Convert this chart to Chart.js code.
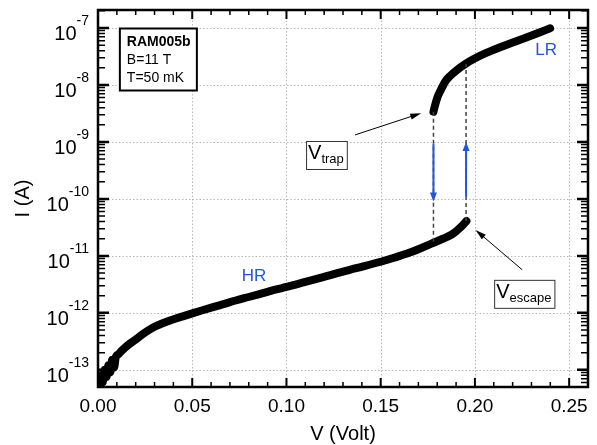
<!DOCTYPE html>
<html>
<head>
<meta charset="utf-8">
<title>RAM005b I-V</title>
<script src="https://cdn.jsdelivr.net/npm/chart.js@4.4.1/dist/chart.umd.min.js"></script>
<style>
  html, body { margin: 0; padding: 0; background: #fff; }
  #wrap { width: 597px; height: 445px; }
</style>
</head>
<body>
<div id="wrap"><canvas id="ivChart"></canvas></div>
<script>
// HR branch: sweep up from 0 V until the escape jump
const hrVolt = [0.0005, 0.0015, 0.0025, 0.0035, 0.0045, 0.0055, 0.0065, 0.0075, 0.0085, 0.0095,
  0.011, 0.0125, 0.014, 0.017, 0.020, 0.024, 0.029, 0.034, 0.039, 0.045, 0.050, 0.055, 0.061,
  0.067, 0.073, 0.080, 0.087, 0.094, 0.100, 0.110, 0.119, 0.128, 0.137, 0.150, 0.157, 0.164,
  0.171, 0.178, 0.183, 0.187, 0.190, 0.192, 0.194, 0.1955];
const hrCurrent = [5.5e-14, 8e-14, 6e-14, 1.0e-13, 7.5e-14, 1.2e-13, 9e-14, 1.5e-13, 1.1e-13, 1.7e-13,
  1.9e-13, 2.15e-13, 2.4e-13, 2.9e-13, 3.4e-13, 4.3e-13, 5.5e-13, 6.5e-13, 7.5e-13, 8.7e-13, 9.8e-13, 1.1e-12, 1.26e-12,
  1.44e-12, 1.65e-12, 1.9e-12, 2.2e-12, 2.55e-12, 2.85e-12, 3.5e-12, 4.2e-12, 5.1e-12, 6.1e-12, 7.9e-12, 9.3e-12, 1.1e-11,
  1.35e-11, 1.7e-11, 2.0e-11, 2.3e-11, 2.7e-11, 3.1e-11, 3.6e-11, 4.1e-11];

// LR branch: from the trap point up to 0.24 V
const lrVolt = [0.1780, 0.1789, 0.1801, 0.1819, 0.1842, 0.1868, 0.1904, 0.1948, 0.2001, 0.2063,
  0.2134, 0.2204, 0.2276, 0.2346, 0.2399];
const lrCurrent = [3.4e-9, 4.46e-9, 6.08e-9, 8.17e-9, 1.14e-8, 1.44e-8, 1.83e-8, 2.33e-8, 2.94e-8, 3.69e-8,
  4.58e-8, 5.61e-8, 6.87e-8, 8.41e-8, 9.88e-8];

// switching voltages and the currents at both ends of each jump
const trapVolt = 0.178;
const trapCurrent = [3.4e-9, 1.7e-11];
const escapeVolt = 0.1953;
const escapeCurrent = [4.1e-11, 2.3e-8];

// blue arrows showing the jump direction
const downArrow = [9.3e-10, 9e-11];
const upArrow = [1.1e-10, 1.0e-9];

const xTicks = [0.00, 0.05, 0.10, 0.15, 0.20, 0.25];
const yDecades = [-13, -12, -11, -10, -9, -8, -7];

const FONT = '"Liberation Sans", Arial, sans-serif';
const BLUE = '#1f55e0';

function toPoints(xs, ys) {
  return xs.map((x, i) => ({ x: x, y: ys[i] }));
}

function arrow(ctx, x1, y1, x2, y2, len, w, color, lw) {
  const a = Math.atan2(y2 - y1, x2 - x1);
  const c = Math.cos(a), s = Math.sin(a);
  ctx.save();
  ctx.strokeStyle = color;
  ctx.fillStyle = color;
  ctx.lineWidth = lw;
  ctx.beginPath();
  ctx.moveTo(x1, y1);
  ctx.lineTo(x2 - c * len * 0.7, y2 - s * len * 0.7);
  ctx.stroke();
  ctx.beginPath();
  ctx.moveTo(x2, y2);
  ctx.lineTo(x2 - len * c + w / 2 * s, y2 - len * s - w / 2 * c);
  ctx.lineTo(x2 - len * c - w / 2 * s, y2 - len * s + w / 2 * c);
  ctx.closePath();
  ctx.fill();
  ctx.restore();
}

// framed label "V" with a subscript
function subBox(ctx, left, top, sub) {
  ctx.save();
  ctx.font = '20px ' + FONT;
  const wMain = ctx.measureText('V').width;
  ctx.font = '13px ' + FONT;
  const wSub = ctx.measureText(sub).width;
  const w = wMain + wSub + 5, h = 28;
  ctx.fillStyle = '#fff';
  ctx.fillRect(left, top, w, h);
  ctx.strokeStyle = '#333';
  ctx.lineWidth = 1;
  ctx.strokeRect(left + 0.5, top + 0.5, w, h);
  ctx.fillStyle = '#000';
  ctx.textBaseline = 'alphabetic';
  ctx.font = '20px ' + FONT;
  ctx.fillText('V', left + 2, top + 18);
  ctx.font = '13px ' + FONT;
  ctx.fillText(sub, left + 2 + wMain, top + 22);
  ctx.restore();
}

const gridPlugin = {
  id: 'gridLines',
  beforeDatasetsDraw(chart) {
    const { ctx, chartArea: a, scales: { x, y } } = chart;
    ctx.save();
    ctx.strokeStyle = '#b8b8b8';
    ctx.lineWidth = 1;
    ctx.setLineDash([1.5, 2]);
    xTicks.forEach(v => {
      const px = Math.round(x.getPixelForValue(v)) + 0.5;
      if (px <= a.left + 2) return;
      ctx.beginPath(); ctx.moveTo(px, a.top); ctx.lineTo(px, a.bottom); ctx.stroke();
    });
    yDecades.forEach(d => {
      const py = Math.round(y.getPixelForValue(Math.pow(10, d))) + 0.5;
      ctx.beginPath(); ctx.moveTo(a.left, py); ctx.lineTo(a.right, py); ctx.stroke();
    });
    ctx.restore();
  }
};

const framePlugin = {
  id: 'frameAxes',
  afterDatasetsDraw(chart) {
    const { ctx, chartArea: a, scales: { x, y } } = chart;
    ctx.save();
    ctx.strokeStyle = '#000';

    // x ticks, inward on bottom and top
    for (let i = 0; i <= 26; i++) {
      const v = i / 100;
      const px = x.getPixelForValue(v);
      const major = i % 5 === 0;
      const len = major ? 9 : 5;
      ctx.lineWidth = major ? 2 : 1.5;
      ctx.beginPath();
      ctx.moveTo(px, a.bottom); ctx.lineTo(px, a.bottom - len);
      ctx.moveTo(px, a.top); ctx.lineTo(px, a.top + len);
      ctx.stroke();
    }

    // y ticks, decades plus 2..9 minors, on left and right
    for (let d = -14; d <= -7; d++) {
      for (let m = 1; m <= 9; m++) {
        const v = m * Math.pow(10, d);
        if (v < y.min || v > y.max) continue;
        const py = y.getPixelForValue(v);
        const major = m === 1;
        const len = major ? 11 : 7;
        ctx.lineWidth = major ? 2.5 : 1.5;
        ctx.beginPath();
        ctx.moveTo(a.left, py); ctx.lineTo(a.left + len, py);
        ctx.moveTo(a.right, py); ctx.lineTo(a.right - len, py);
        ctx.stroke();
      }
    }

    ctx.lineWidth = 2.5;
    ctx.strokeRect(a.left, a.top, a.right - a.left, a.bottom - a.top);

    // tick labels
    ctx.fillStyle = '#000';
    ctx.textAlign = 'center';
    ctx.textBaseline = 'alphabetic';
    ctx.font = '19px ' + FONT;
    xTicks.forEach(v => {
      ctx.fillText(v.toFixed(2), x.getPixelForValue(v), a.bottom + 25);
    });

    yDecades.forEach(d => {
      const py = y.getPixelForValue(Math.pow(10, d));
      ctx.font = '14px ' + FONT;
      const sup = String(d);
      const wSup = ctx.measureText(sup).width;
      ctx.textAlign = 'right';
      ctx.fillText(sup, a.left - 9, py - 3);
      ctx.font = '20px ' + FONT;
      ctx.fillText('10', a.left - 9 - wSup, py + 12);
    });

    // axis titles
    ctx.textAlign = 'center';
    ctx.font = '20px ' + FONT;
    ctx.fillText('V (Volt)', (a.left + a.right) / 2, a.bottom + 53);
    ctx.save();
    ctx.translate(29, (a.top + a.bottom) / 2);
    ctx.rotate(-Math.PI / 2);
    ctx.fillText('I (A)', 0, 0);
    ctx.restore();

    // sample info box
    const bx = x.getPixelForValue(0.0116), by = y.getPixelForValue(9.8e-8);
    ctx.fillStyle = '#fff';
    ctx.fillRect(bx, by, 77, 62);
    ctx.lineWidth = 2;
    ctx.strokeRect(bx, by, 77, 62);
    ctx.fillStyle = '#000';
    ctx.textAlign = 'left';
    ctx.font = 'bold 14px ' + FONT;
    ctx.fillText('RAM005b', bx + 7, by + 17);
    ctx.font = '14px ' + FONT;
    ctx.fillText('B=11 T', bx + 7, by + 35);
    ctx.fillText('T=50 mK', bx + 7, by + 53);

    // branch names
    ctx.fillStyle = BLUE;
    ctx.font = '17px ' + FONT;
    ctx.textAlign = 'center';
    ctx.textBaseline = 'middle';
    ctx.fillText('HR', x.getPixelForValue(0.0828), y.getPixelForValue(4.3e-12));
    ctx.fillText('LR', x.getPixelForValue(0.2378), y.getPixelForValue(4.1e-8));
    ctx.restore();

    // jump direction arrows
    arrow(ctx, x.getPixelForValue(trapVolt), y.getPixelForValue(downArrow[0]),
      x.getPixelForValue(trapVolt), y.getPixelForValue(downArrow[1]), 9, 7, BLUE, 2);
    arrow(ctx, x.getPixelForValue(escapeVolt), y.getPixelForValue(upArrow[0]),
      x.getPixelForValue(escapeVolt), y.getPixelForValue(upArrow[1]), 9, 7, BLUE, 2);

    // callouts for the two switching voltages
    arrow(ctx, x.getPixelForValue(0.1364), y.getPixelForValue(1.33e-9),
      x.getPixelForValue(0.1715), y.getPixelForValue(3.2e-9), 11, 6, '#000', 1);
    arrow(ctx, x.getPixelForValue(0.2251), y.getPixelForValue(5.7e-12),
      x.getPixelForValue(0.2003), y.getPixelForValue(2.86e-11), 11, 6, '#000', 1);
    subBox(ctx, x.getPixelForValue(0.1104), y.getPixelForValue(1.04e-9), 'trap');
    subBox(ctx, x.getPixelForValue(0.2102), y.getPixelForValue(3.8e-12), 'escape');
  }
};

const curveStyle = {
  showLine: true,
  borderColor: '#000',
  backgroundColor: '#000',
  borderWidth: 8,
  borderCapStyle: 'round',
  borderJoinStyle: 'round',
  pointRadius: 0,
  cubicInterpolationMode: 'monotone'
};

const jumpStyle = {
  showLine: true,
  borderColor: '#444',
  borderWidth: 1.5,
  borderDash: [4, 3],
  pointRadius: 0
};

new Chart(document.getElementById('ivChart'), {
  type: 'scatter',
  data: {
    datasets: [
      Object.assign({ label: 'trap', data: [{ x: trapVolt, y: trapCurrent[0] }, { x: trapVolt, y: trapCurrent[1] }] }, jumpStyle),
      Object.assign({ label: 'escape', data: [{ x: escapeVolt, y: escapeCurrent[0] }, { x: escapeVolt, y: escapeCurrent[1] }] }, jumpStyle),
      Object.assign({ label: 'HR', data: toPoints(hrVolt, hrCurrent) }, curveStyle),
      Object.assign({ label: 'LR', data: toPoints(lrVolt, lrCurrent) }, curveStyle)
    ]
  },
  options: {
    responsive: true,
    maintainAspectRatio: false,
    animation: false,
    layout: { padding: { left: 98, top: 10, right: 9, bottom: 58 } },
    plugins: {
      legend: { display: false },
      tooltip: { enabled: false }
    },
    scales: {
      x: { type: 'linear', min: 0, max: 0.26, display: false },
      y: { type: 'logarithmic', min: 5e-14, max: 2.07e-7, display: false }
    }
  },
  plugins: [gridPlugin, framePlugin]
});
</script>
</body>
</html>
